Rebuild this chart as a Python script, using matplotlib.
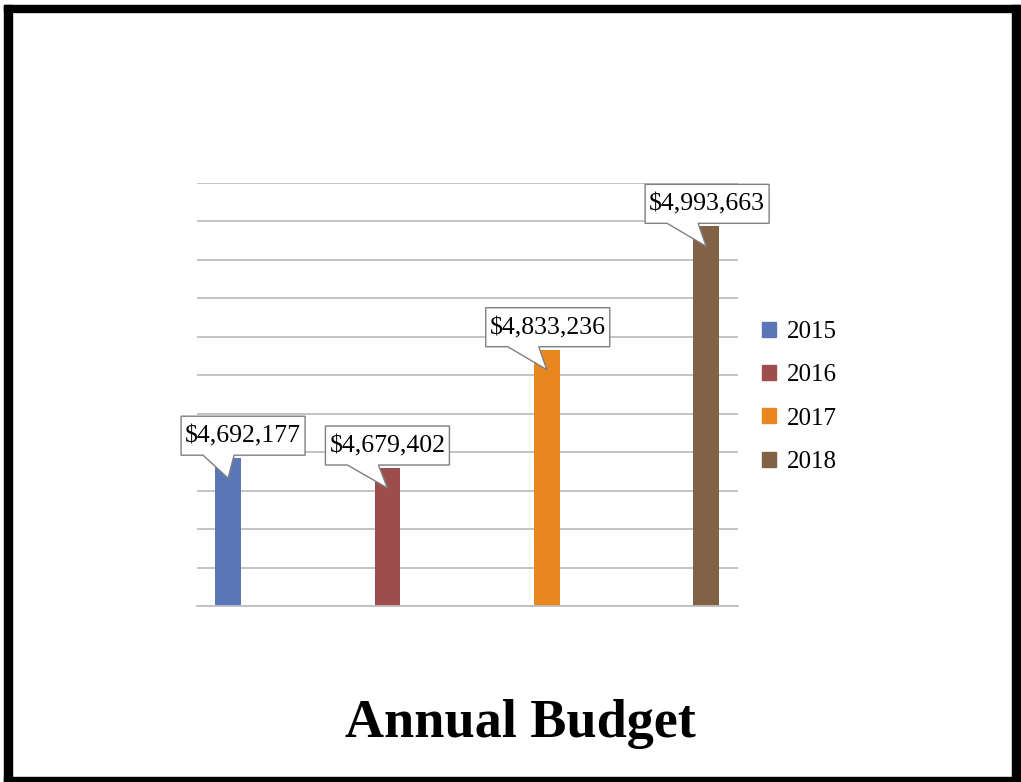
import matplotlib
matplotlib.use('Agg')
import matplotlib.pyplot as plt
import matplotlib.transforms as mtransforms
from matplotlib.patches import Polygon, Rectangle

years = ['2015', '2016', '2017', '2018']
budget = [4692177, 4679402, 4833236, 4993663]
colors = ['#5B76B6', '#9E4D4D', '#E8871F', '#826245']
title = 'Annual Budget'

W, H = 1021, 782
plt.rcParams['font.family'] = ['Liberation Serif', 'DejaVu Serif']

fig = plt.figure(figsize=(W / 100, H / 100), dpi=100)
fig.patch.set_facecolor('white')

# plot area in pixels: x 197..738, y 183..606
ax = fig.add_axes([197 / W, 1 - 606 / H, (738 - 197) / W, (606 - 183) / H])
x = list(range(len(years)))
bars = ax.bar(x, budget, width=0.16, color=colors, zorder=2)

ax.set_ylim(4500000, 5050000)
ax.set_xlim(-0.195, 3.2)
ax.set_yticks(range(4500000, 5050001, 50000))
ax.yaxis.grid(True, color='#BEBEBE', linewidth=1.3, zorder=0)
ax.set_axisbelow(True)
for s in ['top', 'right', 'left']:
    ax.spines[s].set_visible(False)
ax.spines['bottom'].set_color('#BEBEBE')
ax.spines['bottom'].set_linewidth(1.3)
ax.tick_params(left=False, bottom=False, labelleft=False, labelbottom=False)

# callout labels (offsets in pixels relative to bar top)
box_left = [-47, -62, -61, -61]
bw, bh, bb = 124, 39, 3
for i, v in enumerate(budget):
    trans = fig.dpi_scale_trans + mtransforms.ScaledTranslation(x[i], v, ax.transData)
    L = box_left[i]
    R = L + bw
    B = bb
    T = bb + bh
    pts = [(L, B), (L + 22, B), (0, -20), (L + 53, B), (R, B), (R, T), (L, T)]
    pts = [(px / 100, py / 100) for px, py in pts]
    poly = Polygon(pts, closed=True, facecolor='white', edgecolor='#7F7F7F',
                   linewidth=1.0, transform=trans, zorder=3, clip_on=False)
    ax.add_patch(poly)
    ax.text((L + R) / 2 / 100, (B + T) / 2 / 100 - 0.01, '${:,}'.format(v),
            transform=trans, ha='center', va='center', fontsize=18.5,
            color='black', zorder=4, clip_on=False)

# legend
handles = [Rectangle((0, 0), 1, 1, color=c) for c in colors]
fig.legend(handles, years, loc='center left', bbox_to_anchor=(762 / W, 1 - 397 / H),
           frameon=False, fontsize=18, handlelength=0.55, handleheight=0.55,
           handletextpad=0.45, labelspacing=0.85, borderpad=0, borderaxespad=0)

fig.text(520 / W, 1 - 737 / H, title, ha='center', va='baseline',
         fontsize=39, fontweight='bold', color='black')

# black frame
for rx, ry, rw, rh in [(4, 5, 8, 777), (4, 5, 1016, 7), (4, 777, 1016, 5), (1012, 5, 8, 777)]:
    fig.add_artist(Rectangle((rx / W, 1 - (ry + rh) / H), rw / W, rh / H,
                             transform=fig.transFigure, color='black', zorder=10))

fig.savefig('out.png', dpi=100, facecolor='white')
